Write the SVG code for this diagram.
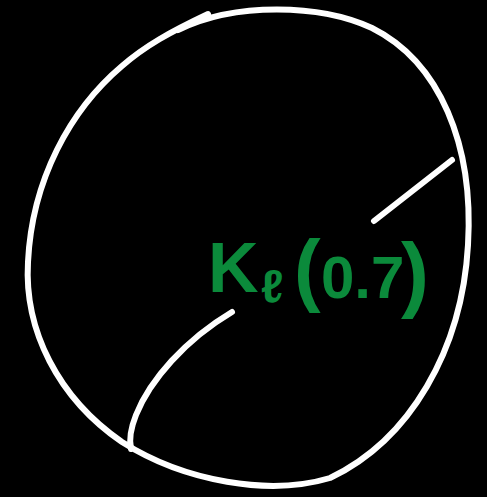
<svg xmlns="http://www.w3.org/2000/svg" width="487" height="497" viewBox="0 0 487 497">
<style>
.ink{fill:none;stroke:#ffffff;stroke-width:6;stroke-linecap:round;stroke-linejoin:round}
.lbl{fill:#0b8a3b;font-family:"Liberation Sans",sans-serif;font-weight:bold}
</style>
<rect width="487" height="497" fill="#000000"/>
<g id="circle">
<path class="ink" d="M178,30 C235,2 320,4 372,28 C440,62 474,145 468,245 C462,350 410,440 330,478 C270,496 185,482 122,442 C58,398 24,330 28,262 C32,180 70,110 122,66 C145,46 170,32 208,14"/>
</g>
<g id="connectors">
<path class="ink" d="M374,221 L452,160"/>
<path class="ink" d="M232,312 C185,340 150,380 136,415 C130,430 129,440 131,449"/>
</g>
<g id="label">
<text class="lbl" x="208" y="292" font-size="70">K</text>
<text class="lbl" x="261" y="302" font-size="46">ℓ</text>
<text class="lbl" x="294" y="296" font-size="80">(<tspan x="321" y="298" font-size="60">0.7</tspan><tspan x="401" y="302" font-size="84">)</tspan></text>
</g>
</svg>
